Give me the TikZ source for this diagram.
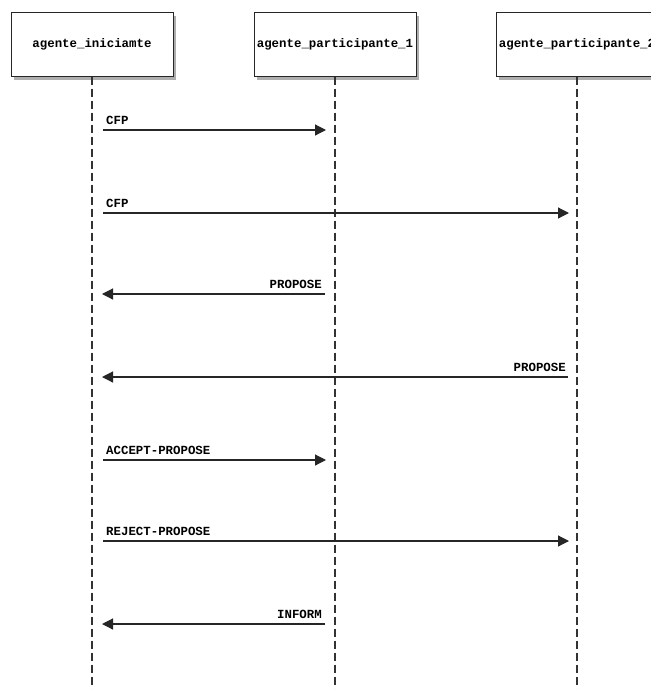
\documentclass[tikz,border=0pt]{standalone}
\usepackage{fontspec}
\newfontfamily\agentfont{Liberation Mono}
\usepackage{tikz}
\usetikzlibrary{arrows,arrows.meta,shapes,backgrounds,shadows}
\usetikzlibrary{calc}
\tikzstyle{agente}=[rectangle, draw=black!85, fill=white, line width=1pt,
minimum width=162pt, minimum height=64pt, inner sep=0pt,
font=\agentfont\bfseries\fontsize{12.4}{14}\selectfont,
drop shadow={shadow xshift=3pt,shadow yshift=-4pt,fill=black!45,opacity=0.7}]
\tikzstyle{vida}=[draw=black!80, line width=1.3pt, dash pattern=on 8pt off 4pt]
\tikzstyle{msg}=[line width=1.2pt, draw=black!85, -{Triangle[length=11pt,width=11pt]}]
\tikzstyle{rotulo}=[inner sep=0pt, font=\agentfont\bfseries\fontsize{12.4}{14}\selectfont]
\begin{document}
\begin{tikzpicture}[x=1pt,y=-1pt]
\useasboundingbox (0,0) rectangle (651,689);
\fill[white] (0,0) rectangle (651,689);
\clip (0,0) rectangle (651,689);
% agentes
\node[agente] (ini) at (92,44) {agente\_iniciamte};
\node[agente] (part1) at (335,44) {agente\_participante\_1};
\node[agente] (part2) at (577,44) {agente\_participante\_2};
\coordinate (fimini) at (92,689);
\coordinate (fimpart1) at (335,689);
\coordinate (fimpart2) at (577,689);
\draw[vida] (ini.south) -- (fimini);
\draw[vida] (part1.south) -- (fimpart1);
\draw[vida] (part2.south) -- (fimpart2);
% mensagens
\coordinate (m1a) at (103,130);  \coordinate (m1b) at (326,130);
\coordinate (m2a) at (103,213);  \coordinate (m2b) at (569,213);
\coordinate (m3a) at (325,294);  \coordinate (m3b) at (102,294);
\coordinate (m4a) at (568,377);  \coordinate (m4b) at (102,377);
\coordinate (m5a) at (103,460);  \coordinate (m5b) at (326,460);
\coordinate (m6a) at (103,541);  \coordinate (m6b) at (569,541);
\coordinate (m7a) at (325,624);  \coordinate (m7b) at (102,624);
\draw[msg] (m1a) -- (m1b);
\draw[msg] (m2a) -- (m2b);
\draw[msg] (m3a) -- (m3b);
\draw[msg] (m4a) -- (m4b);
\draw[msg] (m5a) -- (m5b);
\draw[msg] (m6a) -- (m6b);
\draw[msg] (m7a) -- (m7b);
\node[rotulo, anchor=south west] (cfp1) at (106,125) {CFP};
\node[rotulo, anchor=south west] (cfp2) at (106,208) {CFP};
\node[rotulo, anchor=south east] (prop1) at (322,289) {PROPOSE};
\node[rotulo, anchor=south east] (prop2) at (566,372) {PROPOSE};
\node[rotulo, anchor=south west] (aceita) at (106,455) {ACCEPT-PROPOSE};
\node[rotulo, anchor=south west] (rejeita) at (106,536) {REJECT-PROPOSE};
\node[rotulo, anchor=south east] (inform) at (322,619) {INFORM};
\end{tikzpicture}
\end{document}
